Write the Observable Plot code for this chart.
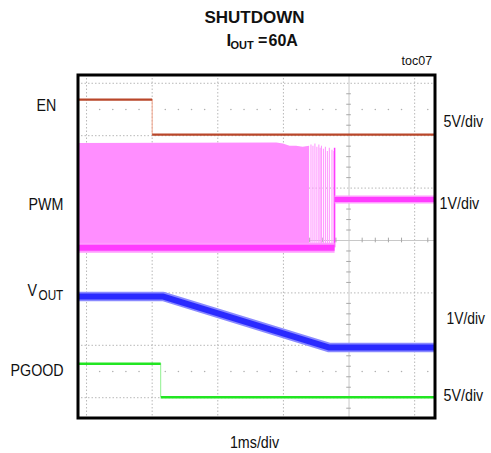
<!DOCTYPE html>
<html>
<head>
<meta charset="utf-8">
<script src="https://cdn.jsdelivr.net/npm/d3@7"></script>
<script src="https://cdn.jsdelivr.net/npm/@observablehq/plot@0.6"></script>
<style>
  body { margin: 0; background: #fff; }
  #chart svg { display: block; }
</style>
</head>
<body>
<div id="chart"></div>
<script>
// Scope capture of a shutdown at IOUT = 60A.
// Time is in ms (1ms/div); every trace level is in screen divisions (0 = centre line).

// Screen extent
const tStart = -0.13, tEnd = 5.31;

// EN (5V/div)
const enEdge = 1.0, enHigh = 2.69, enLow = 2.02;

// PWM (1V/div): dense switching burst, a few last pulses, then idle level
const pwmLow = -0.14;
const pwmBurstT   = [-0.13, 2.9, 3.0, 3.1, 3.2, 3.3, 3.40];
const pwmBurstTop = [1.85, 1.86, 1.84, 1.8, 1.8, 1.78, 1.8];
const pwmTailT    = [3.42, 3.45, 3.48, 3.51, 3.54, 3.56, 3.58, 3.61, 3.64, 3.67, 3.70, 3.74, 3.77];
const pwmTailTop  = [1.82, 1.8, 1.84, 1.78, 1.82, 1.76, 1.8, 1.74, 1.78, 1.7, 1.76, 1.72, 1.7];
const pwmStop = 3.78, pwmStopTop = 1.76, pwmIdle = 0.78;

// VOUT (1V/div): flat, linear ramp down, then flat
const voutT = [-0.13, 1.17, 3.69, 5.31];
const voutV = [-1.07, -1.07, -2.04, -2.04];

// PGOOD (5V/div)
const pgEdge = 1.13, pgHigh = -2.35, pgLow = -2.99;

// Graticule
const majorX = [0, 1, 2, 3, 4, 5];
const majorY = [-3, -2, -1, 0, 1, 2, 3];
const centreX = 4, centreY = 0;

const minorX = d3.range(1, 27).map(k => k / 5).filter(v => !Number.isInteger(v));
const minorY = d3.range(-16, 16).map(k => k / 5).filter(v => !Number.isInteger(Math.round(v * 1000) / 1000));

const M = {left: 77.5, right: 56.5, top: 74.5, bottom: 35.5};

const burst = pwmBurstT.map((t, i) => ({t, top: pwmBurstTop[i]}));
const tail = pwmTailT.map((t, i) => ({t, top: pwmTailTop[i]}));
const vout = voutT.map((t, i) => ({t, v: voutV[i]}));

const seg = (a, b, v, id) => [{t: a, v, id}, {t: b, v, id}];

const labelFont = "'Liberation Sans Narrow', 'Liberation Sans', Arial, sans-serif";
const titleFont = "'Liberation Sans', Arial, Helvetica, sans-serif";

// text placed in pixels relative to the plotting frame's top-left corner
function label(str, x, y, o = {}) {
  return Plot.text([str], {
    text: d => d,
    frameAnchor: "top-left",
    dx: x - M.left,
    dy: y - M.top,
    textAnchor: o.anchor ?? "start",
    lineAnchor: "middle",
    fontSize: o.size ?? 17,
    fontWeight: o.weight ?? "normal",
    fontFamily: o.font ?? labelFont,
    fill: "#111"
  });
}

const trace = {x: "t", y: "v", clip: true, strokeLinecap: "butt"};

const chart = Plot.plot({
  width: 491,
  height: 453,
  marginLeft: M.left,
  marginRight: M.right,
  marginTop: M.top,
  marginBottom: M.bottom,
  x: {domain: [tStart, tEnd], axis: null},
  y: {domain: [-3.387, 3.158], axis: null},
  marks: [
    // dotted graticule
    Plot.ruleX(majorX.filter(d => d !== centreX), {stroke: "#b8b8b8", strokeDasharray: "1.5,2"}),
    Plot.ruleY(majorY.filter(d => d !== centreY), {stroke: "#b8b8b8", strokeDasharray: "1.5,2"}),
    Plot.ruleX([centreX], {stroke: "#c8c8c8"}),
    Plot.ruleY([centreY], {stroke: "#c8c8c8"}),
    Plot.ruleY(minorY, {x1: centreX - 0.035, x2: centreX + 0.035, stroke: "#a8a8a8"}),
    Plot.ruleX(minorX, {y1: centreY - 0.045, y2: centreY + 0.045, stroke: "#a8a8a8"}),
    Plot.dot(minorX.flatMap(t => [{t, v: 2.5}, {t, v: -2.5}]), {x: "t", y: "v", r: 0.8, fill: "#b0b0b0", stroke: null}),

    // EN
    Plot.ruleX([enEdge], {y1: enLow, y2: enHigh, stroke: "#f2a48a", strokeWidth: 1}),
    Plot.line([...seg(tStart, enEdge, enHigh, 0), ...seg(enEdge, tEnd, enLow, 1)],
      {...trace, z: "id", stroke: "#b9472a", strokeWidth: 2.2}),

    // PWM
    Plot.areaY(burst, {x: "t", y1: pwmLow, y2: "top", fill: "#ff8eff", clip: true}),
    Plot.ruleX(tail, {x: "t", y1: pwmLow, y2: "top", stroke: "#ff9aff", strokeWidth: 1.1}),
    Plot.ruleX([pwmStop], {y1: pwmLow, y2: pwmStopTop, stroke: "#ff3cff", strokeWidth: 1.5}),
    Plot.line(seg(tStart, pwmStop, pwmLow, 0), {...trace, stroke: "#ff9cff", strokeWidth: 10}),
    Plot.line(seg(tStart, pwmStop, pwmLow, 0), {...trace, stroke: "#ff3cff", strokeWidth: 6}),
    Plot.line(seg(pwmStop, tEnd, pwmIdle, 0), {...trace, stroke: "#ff9cff", strokeWidth: 8}),
    Plot.line(seg(pwmStop, tEnd, pwmIdle, 0), {...trace, stroke: "#ff3cff", strokeWidth: 5}),

    // VOUT
    Plot.line(vout, {...trace, stroke: "#8a8aff", strokeWidth: 9.5}),
    Plot.line(vout, {...trace, stroke: "#2a2aff", strokeWidth: 6}),

    // PGOOD
    Plot.ruleX([pgEdge], {y1: pgLow, y2: pgHigh, stroke: "#8ff08f", strokeWidth: 1}),
    Plot.line([...seg(tStart, pgEdge, pgHigh, 0), ...seg(pgEdge, tEnd, pgLow, 1)],
      {...trace, z: "id", stroke: "#22e622", strokeWidth: 2.5}),

    Plot.frame({stroke: "#000", strokeWidth: 3}),

    // titles
    label("SHUTDOWN", 254, 17.5, {anchor: "middle", weight: "bold", font: titleFont, size: 17}),
    label("I", 226, 40, {weight: "bold", font: titleFont, size: 17}),
    label("OUT", 230, 45, {weight: "bold", font: titleFont, size: 11}),
    label("=", 257.5, 40, {weight: "bold", font: titleFont, size: 16}),
    label("60A", 268, 40, {weight: "bold", font: titleFont, size: 16}),
    label("toc07", 401, 60, {font: titleFont, size: 12.5}),

    // channel names
    label("EN", 36, 105),
    label("PWM", 28, 204),
    label("V", 27, 290.5),
    label("OUT", 38, 295.5, {size: 14}),
    label("PGOOD", 10, 370),

    // channel scales
    label("5V/div", 443, 121),
    label("1V/div", 439, 203),
    label("1V/div", 446, 318, {size: 16.5}),
    label("5V/div", 443, 395.5),

    // time base
    label("1ms/div", 254, 442.5, {anchor: "middle"})
  ]
});

document.getElementById("chart").appendChild(chart);

// condense the channel labels to the narrow face of the scope printout
chart.querySelectorAll("text").forEach(el => {
  if (!getComputedStyle(el).fontFamily.includes("Narrow")) return;
  const w = el.getComputedTextLength();
  el.setAttribute("textLength", (w * 0.84).toFixed(1));
  el.setAttribute("lengthAdjust", "spacingAndGlyphs");
});
</script>
</body>
</html>
